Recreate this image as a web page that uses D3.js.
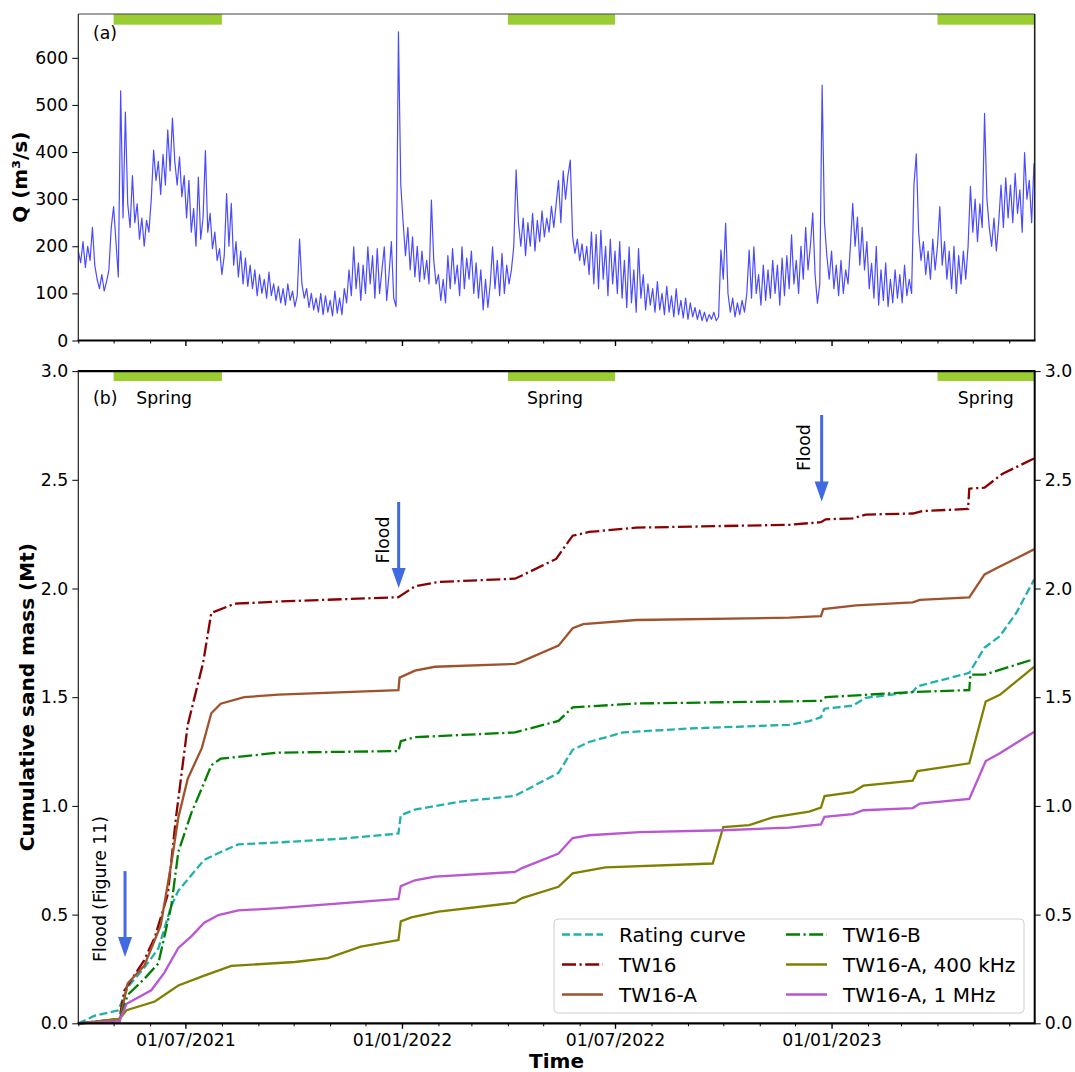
<!DOCTYPE html>
<html>
<head>
<meta charset="utf-8">
<script src="https://cdn.jsdelivr.net/npm/d3@7"></script>
<style>
  body { margin: 0; background: #fff; }
  text { font-family: "DejaVu Sans", sans-serif; fill: #000; }
</style>
</head>
<body>
<script>
// discharge Q (m3/s), one value every 2 days starting 01/04/2021
const qStart = "2021-04-01"
const qStep = 2
const discharge = [
  190,165,210,155,200,170,
  240,160,130,110,140,105,125,150,
  240,284,210,135,530,260,485,290,
  240,350,250,290,215,260,200,255,230,
  300,404,340,380,310,395,330,
  447,360,472,380,330,390,305,350,
  260,340,230,280,200,347,215,260,
  403,230,270,195,230,170,195,140,
  180,312,200,291,160,210,
  135,190,120,175,115,160,
  110,150,95,140,100,130,90,145,95,120,85,
  115,80,110,75,120,85,105,72,95,
  215,120,90,110,70,100,65,90,
  60,100,55,95,60,85,52,105,58,90,55,110,
  80,150,95,199,110,165,85,
  160,100,199,120,180,90,195,100,150,199,85,140,210,90,
  72,
  655,330,250,180,240,150,220,135,200,125,190,130,170,
  120,298,170,120,140,85,130,80,
  180,110,195,120,160,95,199,110,175,130,190,100,165,
  90,150,65,130,70,120,
  199,110,170,95,185,100,160,120,150,200,
  362,250,200,260,180,250,200,270,190,255,210,275,220,260,230,285,240,
  290,340,250,360,300,350,383,
  220,185,215,170,205,160,200,140,
  230,120,225,110,234,130,200,95,215,120,190,100,210,90,
  170,70,199,80,150,60,195,90,140,65,120,75,110,60,
  125,65,100,55,115,60,95,50,110,55,85,48,90,45,80,50,70,
  45,65,42,60,40,55,45,60,42,50,
  192,130,249,100,60,90,50,80,55,85,60,100,
  192,90,199,100,140,75,160,85,150,90,170,100,160,75,175,95,180,
  110,224,120,170,100,200,130,240,150,200,271,140,
  79,120,542,250,180,130,190,110,160,95,170,100,150,120,200,
  291,200,262,160,240,150,210,110,
  164,90,200,75,150,85,165,72,130,80,150,90,140,80,160,95,130,100,
  330,396,230,170,210,140,190,130,215,150,
  200,284,160,210,130,190,110,200,100,180,120,190,130,200,
  327,230,300,210,290,240,482,300,240,200,260,190,250,
  330,240,345,260,330,250,355,270,320,230,399,300,340,250,376
]

// cumulative sand mass (Mt): [days since 01/04/2021, value]
const ratingCurve = [[0,0],[14,0.035],[34,0.06],[42,0.166],[56,0.255],[68,0.344],[79,0.54],[85,0.61],[96,0.681],[107,0.752],[121,0.788],[136,0.823],[170,0.832],[226,0.85],[272,0.873],[274,0.957],[286,0.983],[325,1.02],[371,1.046],[408,1.152],[420,1.258],[434,1.294],[463,1.338],[519,1.356],[604,1.373],[621,1.39],[631,1.408],[634,1.447],[658,1.461],[669,1.497],[709,1.524],[713,1.55],[757,1.612],[770,1.728],[783,1.781],[797,1.888],[812,2.04]]
const tw16 = [[0,0],[35,0.02],[39,0.149],[56,0.29],[65,0.396],[76,0.592],[83,0.947],[93,1.373],[106,1.657],[113,1.888],[133,1.93],[170,1.94],[272,1.96],[286,2.01],[306,2.03],[371,2.045],[377,2.06],[406,2.136],[420,2.243],[434,2.26],[474,2.28],[604,2.293],[631,2.305],[635,2.318],[658,2.323],[669,2.34],[709,2.345],[717,2.356],[756,2.366],[757,2.459],[770,2.464],[785,2.527],[812,2.598]]
const tw16A = [[0,0],[35,0.01],[42,0.184],[56,0.264],[70,0.45],[79,0.734],[85,0.947],[93,1.125],[105,1.267],[113,1.426],[121,1.47],[141,1.5],[170,1.512],[272,1.533],[273,1.59],[286,1.622],[303,1.64],[371,1.653],[375,1.66],[408,1.737],[420,1.817],[429,1.836],[474,1.855],[604,1.866],[631,1.873],[633,1.905],[661,1.922],[709,1.936],[715,1.948],[757,1.959],[770,2.065],[783,2.101],[812,2.18]]
const tw16B = [[0,0],[35,0.01],[42,0.131],[56,0.204],[68,0.275],[79,0.54],[85,0.789],[96,0.967],[107,1.107],[113,1.187],[121,1.217],[170,1.245],[272,1.252],[274,1.298],[286,1.316],[371,1.338],[408,1.391],[420,1.453],[474,1.471],[631,1.483],[635,1.5],[709,1.524],[757,1.533],[758,1.604],[770,1.604],[812,1.675]]
const tw16A400 = [[0,0],[35,0.02],[41,0.06],[65,0.1],[85,0.174],[107,0.219],[130,0.264],[184,0.282],[212,0.3],[240,0.353],[272,0.383],[274,0.469],[283,0.487],[306,0.514],[371,0.555],[377,0.576],[408,0.628],[420,0.69],[448,0.717],[539,0.735],[548,0.903],[570,0.912],[590,0.947],[621,0.974],[631,0.992],[634,1.045],[658,1.063],[667,1.093],[709,1.116],[713,1.16],[757,1.196],[771,1.48],[783,1.511],[802,1.595],[812,1.64]]
const tw16A1M = [[0,0],[35,0.01],[41,0.09],[62,0.152],[73,0.232],[85,0.347],[96,0.4],[107,0.463],[119,0.498],[136,0.519],[170,0.53],[272,0.572],[274,0.631],[286,0.658],[303,0.675],[371,0.696],[377,0.714],[408,0.781],[420,0.852],[434,0.865],[477,0.879],[548,0.888],[604,0.9],[631,0.915],[634,0.95],[658,0.962],[667,0.98],[709,0.99],[715,1.011],[757,1.032],[771,1.206],[783,1.242],[812,1.34]]

const seriesNames = ["Rating curve", "TW16", "TW16-A", "TW16-B", "TW16-A, 400 kHz", "TW16-A, 1 MHz"]
const seriesData = [ratingCurve, tw16, tw16A, tw16B, tw16A400, tw16A1M]
const seriesColors = ["#20b2aa", "#8b0000", "#a0522d", "#008000", "#808000", "#ba55d3"]
const seriesDash = ["8,3.5", "14,3.5,2.2,3.5", null, "14,3.5,2.2,3.5", null, null]

const springStart = ["2021-05-01", "2022-04-01", "2023-04-01"]
const springEnd = ["2021-08-01", "2022-07-01", "2023-07-01"]
const springLabelDate = ["2021-06-13", "2022-05-11", "2023-05-12"]

const majorDates = ["2021-07-01", "2022-01-01", "2022-07-01", "2023-01-01"]
const qTicks = [0, 100, 200, 300, 400, 500, 600]
const massTicks = [0, 0.5, 1.0, 1.5, 2.0, 2.5, 3.0]

// flood arrows: date, arrow top and tip (Mt), label anchor
const floodLabel = ["Flood (Figure 11)", "Flood", "Flood"]
const floodDate = [39.7, 272.2, 631.6]
const floodTop = [0.70, 2.398, 2.798]
const floodTip = [0.305, 2.002, 2.40]
const floodTextDate = [23.5, 264, 621.7]
const floodTextY = [0.282, 2.115, 2.54]

const W = 1075, H = 1072
const parse = d3.utcParse("%Y-%m-%d")
const t0 = parse(qStart)
const dayToDate = d => new Date(t0.getTime() + d * 86400000)

const svg = d3.select("body").append("svg")
  .attr("width", W).attr("height", H)

const left = 78.3, right = 1034.7
const x = d3.scaleUtc()
  .domain([t0, dayToDate(812.6)])
  .range([left, right])

const top1 = 14, bot1 = 340.5
const top2 = 371.1, bot2 = 1023.3
const yQ = d3.scaleLinear().domain([0, 693]).range([bot1, top1])
const yM = d3.scaleLinear().domain([0, 3]).range([bot2, top2])

const months = d3.utcMonth.range(t0, dayToDate(813))
const majors = majorDates.map(parse)
const minors = months.filter(m => !majors.some(j => +j == +m))

svg.append("defs").append("clipPath").attr("id", "clipQ")
  .append("rect").attr("x", left).attr("y", top1)
  .attr("width", right - left).attr("height", bot1 - top1)

// ---- panel (a): discharge
const qData = discharge.map((v, i) => [dayToDate(i * qStep), v])
svg.append("path")
  .datum(qData)
  .attr("clip-path", "url(#clipQ)")
  .attr("fill", "none")
  .attr("stroke", "#4a4aff")
  .attr("stroke-width", 1.2)
  .attr("stroke-linejoin", "round")
  .attr("d", d3.line().x(d => x(d[0])).y(d => yQ(d[1])))

// spring bars
function springBars(yTop, h) {
  svg.append("g").selectAll("rect")
    .data(springStart)
    .enter()
    .append("rect")
    .attr("x", (d, i) => x(parse(d)))
    .attr("y", yTop)
    .attr("width", (d, i) => Math.min(x(parse(springEnd[i])), right) - x(parse(d)))
    .attr("height", h)
    .attr("fill", "#9acd32")
}
springBars(top1, 10.7)

// axes for (a)
svg.append("g")
  .attr("transform", `translate(${left},0)`)
  .call(d3.axisLeft(yQ).tickValues(qTicks).tickSize(6).tickPadding(4))
  .call(g => g.select(".domain").remove())
  .call(g => g.selectAll("text").attr("font-size", 17.3).attr("font-family", "DejaVu Sans"))
svg.append("g")
  .attr("transform", `translate(0,${bot1})`)
  .call(d3.axisBottom(x).tickValues(majors).tickSize(5.5).tickFormat(""))
  .call(g => g.select(".domain").remove())
  .call(g => g.selectAll("line").attr("stroke-width", 1.4))
svg.append("g")
  .attr("transform", `translate(0,${bot1})`)
  .call(d3.axisBottom(x).tickValues(minors).tickSize(3).tickFormat(""))
  .call(g => g.select(".domain").remove())

// spines (a)
svg.append("line").attr("x1", left).attr("x2", right).attr("y1", top1).attr("y2", top1).attr("stroke", "#444").attr("stroke-width", 1.2)
svg.append("line").attr("x1", left).attr("x2", left).attr("y1", top1).attr("y2", bot1).attr("stroke", "#222").attr("stroke-width", 1.2)
svg.append("line").attr("x1", right).attr("x2", right).attr("y1", top1).attr("y2", bot1).attr("stroke", "#222").attr("stroke-width", 1.6)
svg.append("line").attr("x1", left - 0.6).attr("x2", right + 0.8).attr("y1", bot1).attr("y2", bot1).attr("stroke", "#000").attr("stroke-width", 2.2)

svg.append("text").attr("x", 93).attr("y", 39).attr("font-size", 17.3).text("(a)")
svg.append("text")
  .attr("transform", `translate(27,${(top1 + bot1) / 2}) rotate(-90)`)
  .attr("text-anchor", "middle")
  .attr("font-size", 20).attr("font-weight", "bold")
  .text("Q (m³/s)")

// ---- panel (b): cumulative sand mass
springBars(top2, 10)

const massLine = d3.line().x(d => x(dayToDate(d[0]))).y(d => yM(d[1]))
svg.append("g").selectAll("path")
  .data(seriesData)
  .enter()
  .append("path")
  .attr("fill", "none")
  .attr("stroke", (d, i) => seriesColors[i])
  .attr("stroke-width", 2.3)
  .attr("stroke-dasharray", (d, i) => seriesDash[i])
  .attr("d", massLine)

// axes for (b)
svg.append("g")
  .attr("transform", `translate(${left},0)`)
  .call(d3.axisLeft(yM).tickValues(massTicks).tickSize(6).tickPadding(4).tickFormat(d3.format(".1f")))
  .call(g => g.select(".domain").remove())
  .call(g => g.selectAll("text").attr("font-size", 17.3).attr("font-family", "DejaVu Sans"))
svg.append("g")
  .attr("transform", `translate(${right},0)`)
  .call(d3.axisRight(yM).tickValues(massTicks).tickSize(6).tickPadding(4).tickFormat(d3.format(".1f")))
  .call(g => g.select(".domain").remove())
  .call(g => g.selectAll("text").attr("font-size", 17.3).attr("font-family", "DejaVu Sans"))
svg.append("g")
  .attr("transform", `translate(0,${bot2})`)
  .call(d3.axisBottom(x).tickValues(majors).tickSize(5.5).tickPadding(5).tickFormat(d3.utcFormat("%d/%m/%Y")))
  .call(g => g.select(".domain").remove())
  .call(g => g.selectAll("line").attr("stroke-width", 1.4))
  .call(g => g.selectAll("text").attr("font-size", 17.3).attr("font-family", "DejaVu Sans"))
svg.append("g")
  .attr("transform", `translate(0,${bot2})`)
  .call(d3.axisBottom(x).tickValues(minors).tickSize(3).tickFormat(""))
  .call(g => g.select(".domain").remove())

// spines (b)
svg.append("line").attr("x1", left - 0.6).attr("x2", right + 0.8).attr("y1", top2).attr("y2", top2).attr("stroke", "#000").attr("stroke-width", 2.2)
svg.append("line").attr("x1", left).attr("x2", left).attr("y1", top2).attr("y2", bot2).attr("stroke", "#222").attr("stroke-width", 1.2)
svg.append("line").attr("x1", right).attr("x2", right).attr("y1", top2).attr("y2", bot2).attr("stroke", "#000").attr("stroke-width", 2)
svg.append("line").attr("x1", left - 0.6).attr("x2", right + 0.8).attr("y1", bot2).attr("y2", bot2).attr("stroke", "#000").attr("stroke-width", 2.2)

svg.append("text").attr("x", 93).attr("y", 404).attr("font-size", 17.3).text("(b)")
svg.append("g").selectAll("text")
  .data(springLabelDate)
  .enter()
  .append("text")
  .attr("x", d => x(parse(d)))
  .attr("y", 404)
  .attr("text-anchor", "middle")
  .attr("font-size", 17.3)
  .text("Spring")

svg.append("text")
  .attr("transform", `translate(34,${(top2 + bot2) / 2}) rotate(-90)`)
  .attr("text-anchor", "middle")
  .attr("font-size", 20).attr("font-weight", "bold")
  .text("Cumulative sand mass (Mt)")
svg.append("text")
  .attr("x", (left + right) / 2).attr("y", 1068)
  .attr("text-anchor", "middle")
  .attr("font-size", 20).attr("font-weight", "bold")
  .text("Time")

// flood arrows
const arrows = svg.append("g")
floodDate.forEach((d, i) => {
  const ax = x(dayToDate(d))
  const yTop = yM(floodTop[i]), yTip = yM(floodTip[i])
  const headL = 20, headW = 7
  arrows.append("line")
    .attr("x1", ax).attr("x2", ax)
    .attr("y1", yTop).attr("y2", yTip - headL + 1)
    .attr("stroke", "#4169e1").attr("stroke-width", 3)
  arrows.append("path")
    .attr("d", `M${ax - headW},${yTip - headL} L${ax + headW},${yTip - headL} L${ax},${yTip} Z`)
    .attr("fill", "#4169e1")
  arrows.append("text")
    .attr("transform", `translate(${x(dayToDate(floodTextDate[i]))},${yM(floodTextY[i])}) rotate(-90)`)
    .attr("font-size", 17.3)
    .text(floodLabel[i])
})

// legend
const legend = svg.append("g").attr("transform", "translate(554,919)")
legend.append("rect")
  .attr("width", 470).attr("height", 94).attr("rx", 4)
  .attr("fill", "#fff").attr("fill-opacity", 0.8)
  .attr("stroke", "#d0d0d0").attr("stroke-width", 1)
const items = legend.selectAll("g.item")
  .data(seriesNames)
  .enter()
  .append("g")
  .attr("class", "item")
  .attr("transform", (d, i) => `translate(${i < 3 ? 0 : 224},${15.5 + (i % 3) * 30})`)
items.append("line")
  .attr("x1", 8).attr("x2", 49)
  .attr("stroke", (d, i) => seriesColors[i])
  .attr("stroke-width", 2.5)
  .attr("stroke-dasharray", (d, i) => seriesDash[i])
items.append("text")
  .attr("x", 65).attr("dy", "0.36em")
  .attr("font-size", 20)
  .text(d => d)
</script>
</body>
</html>
